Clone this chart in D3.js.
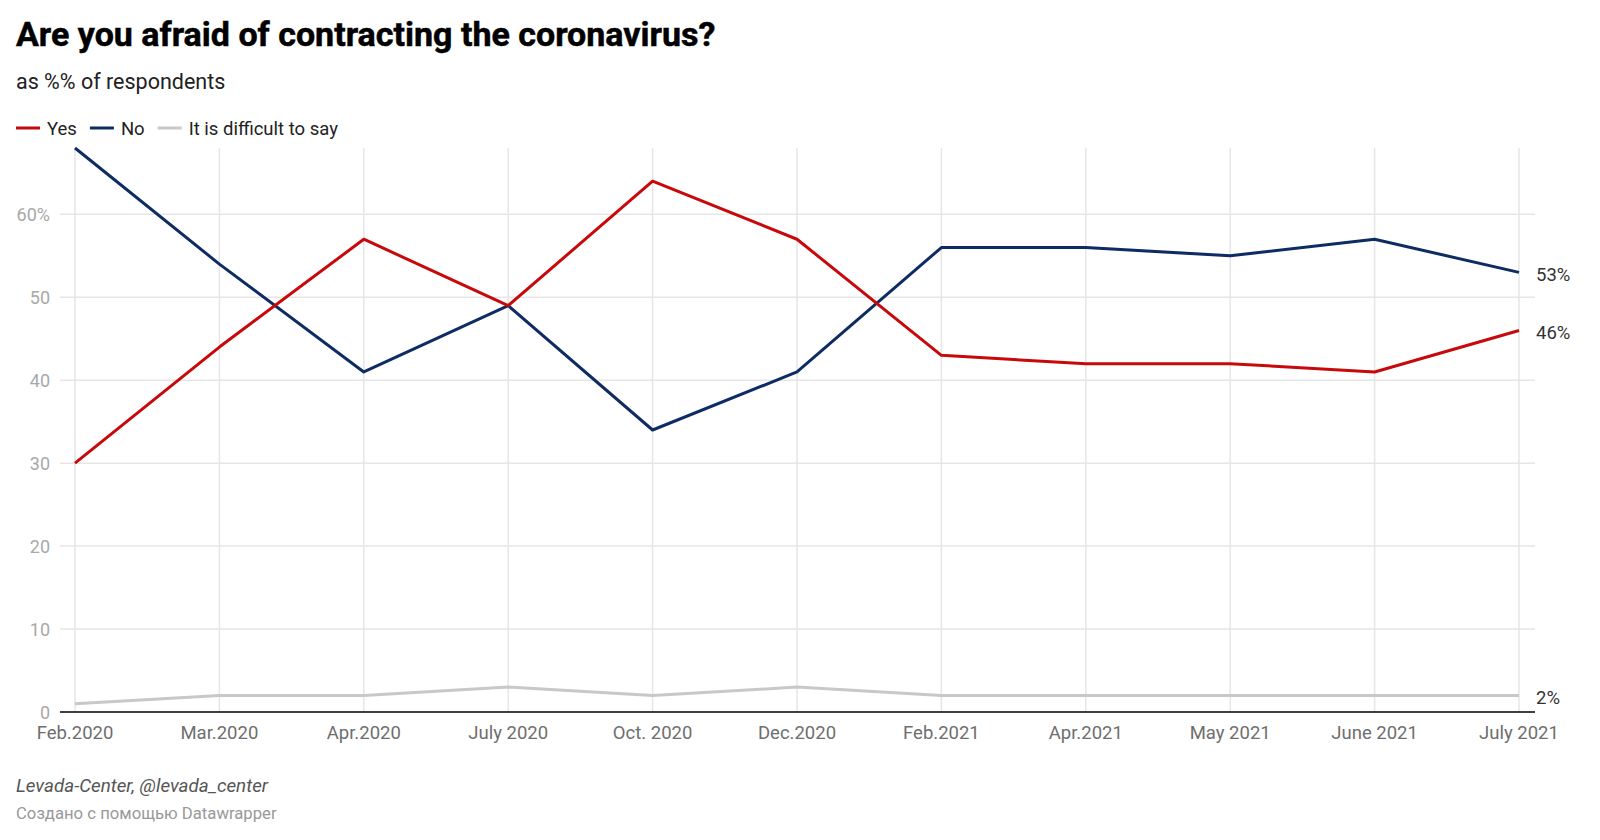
<!DOCTYPE html>
<html>
<head>
<meta charset="utf-8">
<script src="https://cdn.jsdelivr.net/npm/d3@7"></script>
<style>
  body { margin: 0; background: #fff; font-family: Roboto, "Noto Sans", sans-serif; }
  svg text { font-family: Roboto, "Noto Sans", sans-serif; }
</style>
</head>
<body>
<svg id="chart"></svg>
<script>
const width = 1600;
const height = 840;

const months = ["Feb.2020", "Mar.2020", "Apr.2020", "July 2020", "Oct. 2020", "Dec.2020",
    "Feb.2021", "Apr.2021", "May 2021", "June 2021", "July 2021"];
const yesValues = [30, 44, 57, 49, 64, 57, 43, 42, 42, 41, 46];
const noValues = [68, 54, 41, 49, 34, 41, 56, 56, 55, 57, 53];
const difficultValues = [1, 2, 2, 3, 2, 3, 2, 2, 2, 2, 2];
const yTicks = [0, 10, 20, 30, 40, 50, 60];

const series = [
    { name: "Yes", values: yesValues, color: "#c8090b" },
    { name: "No", values: noValues, color: "#0e2c63" },
    { name: "It is difficult to say", values: difficultValues, color: "#c8c8c8" }
];

const svg = d3.select("#chart")
    .attr("width", width)
    .attr("height", height);

const x = d3.scalePoint()
    .domain(months)
    .range([75, 1519]);

const y = d3.scaleLinear()
    .domain([0, 68])
    .range([712, 148]);

const gridLeft = 60, gridRight = 1535;

// title block
svg.append("text")
    .attr("x", 16).attr("y", 46)
    .attr("font-size", 34).attr("font-weight", 700).attr("fill", "#000")
    .attr("stroke", "#000").attr("stroke-width", 0.5)
    .text("Are you afraid of contracting the coronavirus?");

svg.append("text")
    .attr("x", 16).attr("y", 89)
    .attr("font-size", 21.5).attr("fill", "#222")
    .text("as %% of respondents");

// legend
let lx = 16;
series.forEach(s => {
    const g = svg.append("g").attr("transform", `translate(${lx},128)`);
    g.append("line")
        .attr("x1", 0).attr("x2", 24)
        .attr("stroke", s.color).attr("stroke-width", 3);
    const t = g.append("text")
        .attr("x", 31).attr("y", 7)
        .attr("font-size", 18.5).attr("fill", "#222")
        .text(s.name);
    lx += 31 + t.node().getComputedTextLength() + 13;
});

// gridlines
svg.append("g")
    .selectAll("line")
    .data(yTicks.filter(d => d > 0))
    .enter().append("line")
    .attr("x1", gridLeft).attr("x2", gridRight)
    .attr("y1", d => y(d)).attr("y2", d => y(d))
    .attr("stroke", "#e6e6e6").attr("stroke-width", 1.5);

svg.append("g")
    .selectAll("line")
    .data(months)
    .enter().append("line")
    .attr("x1", d => x(d)).attr("x2", d => x(d))
    .attr("y1", y(68)).attr("y2", y(0))
    .attr("stroke", "#e6e6e6").attr("stroke-width", 1.5);

// y labels
svg.append("g")
    .selectAll("text")
    .data(yTicks)
    .enter().append("text")
    .attr("x", 50)
    .attr("y", d => y(d) + 7)
    .attr("text-anchor", "end")
    .attr("font-size", 18).attr("fill", "#a8a8a8")
    .text(d => d === 60 ? "60%" : d);

// x labels
svg.append("g")
    .selectAll("text")
    .data(months)
    .enter().append("text")
    .attr("x", d => x(d))
    .attr("y", 739)
    .attr("text-anchor", "middle")
    .attr("font-size", 18.5).attr("fill", "#6e6e6e")
    .text(d => d);

// lines
const line = d3.line()
    .x((d, i) => x(months[i]))
    .y(d => y(d));

series.slice().reverse().forEach(s => {
    svg.append("path")
        .datum(s.values)
        .attr("d", line)
        .attr("fill", "none")
        .attr("stroke", s.color)
        .attr("stroke-width", 3)
        .attr("stroke-linejoin", "round");
});

// baseline
svg.append("line")
    .attr("x1", gridLeft).attr("x2", gridRight)
    .attr("y1", y(0)).attr("y2", y(0))
    .attr("stroke", "#000").attr("stroke-width", 1.5);

// end labels
series.forEach(s => {
    const last = s.values[s.values.length - 1];
    svg.append("text")
        .attr("x", x(months[months.length - 1]) + 17)
        .attr("y", y(last) + 9)
        .attr("font-size", 18.5).attr("fill", "#333")
        .text(last + "%");
});

// footer
svg.append("text")
    .attr("x", 16).attr("y", 792)
    .attr("font-size", 18.8).attr("font-style", "italic").attr("fill", "#555")
    .text("Levada-Center, @levada_center");

svg.append("text")
    .attr("x", 16).attr("y", 819)
    .attr("font-size", 16.7).attr("fill", "#999")
    .text("Создано с помощью Datawrapper");
</script>
</body>
</html>
